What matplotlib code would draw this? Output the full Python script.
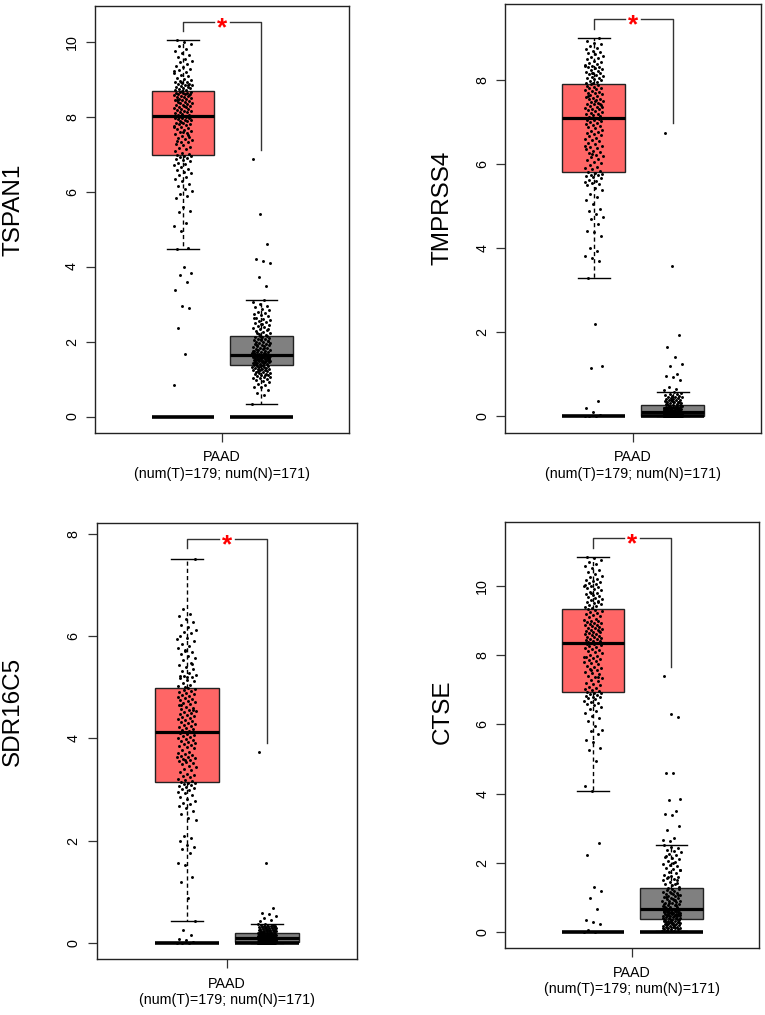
import numpy as np
import matplotlib
matplotlib.use('Agg')
import matplotlib.pyplot as plt

plt.rcParams['font.family'] = ['Liberation Sans', 'DejaVu Sans']

# ---------------- data ----------------
genes = ['TSPAN1', 'TMPRSS4', 'SDR16C5', 'CTSE']
cancer = 'PAAD'
n_tumor = 179
n_normal = 171
groups = ['T', 'N']

# box statistics: (lower whisker, Q1, median, Q3, upper whisker)
tspan1_box_t = (4.47, 6.98, 8.01, 8.67, 10.03)
tspan1_box_n = (0.34, 1.38, 1.65, 2.16, 3.11)
tmprss4_box_t = (3.29, 5.83, 7.10, 7.92, 9.01)
tmprss4_box_n = (0.00, 0.00, 0.10, 0.26, 0.59)
sdr16c5_box_t = (0.43, 3.15, 4.13, 4.99, 7.51)
sdr16c5_box_n = (0.00, 0.01, 0.09, 0.19, 0.37)
ctse_box_t = (4.07, 6.94, 8.34, 9.34, 10.85)
ctse_box_n = (0.02, 0.38, 0.67, 1.26, 2.51)

# significance bracket: (top, tumor leg end, normal leg end)
tspan1_bracket = (10.52, 10.28, 7.11)
tmprss4_bracket = (9.46, 9.22, 6.98)
sdr16c5_bracket = (7.90, 7.71, 3.91)
ctse_bracket = (11.39, 11.11, 7.67)

tspan1_yticks = [0, 2, 4, 6, 8, 10]
tmprss4_yticks = [0, 2, 4, 6, 8]
sdr16c5_yticks = [0, 2, 4, 6, 8]
ctse_yticks = [0, 2, 4, 6, 8, 10]

# individual sample values (log2(TPM+1))
tspan1_t = [0.85, 1.66, 2.36, 2.89, 2.96, 3.38, 3.59, 3.78, 3.84, 3.98,
            4.47, 4.50, 4.95, 5.08, 5.16, 5.45, 5.48, 5.58, 5.82, 5.88, 5.93, 6.02, 6.08, 6.15, 6.21,
            6.27, 6.33, 6.39, 6.44, 6.49, 6.52, 6.57, 6.61, 6.66, 6.70, 6.73, 6.76, 6.81, 6.84, 6.87,
            6.90, 6.92, 6.94, 6.96, 6.97,
            7.01, 7.04, 7.09, 7.13, 7.16, 7.19, 7.23, 7.26, 7.31, 7.33, 7.37, 7.41, 7.44, 7.46, 7.49,
            7.53, 7.56, 7.59, 7.61, 7.64, 7.66, 7.69, 7.71, 7.74, 7.77, 7.79, 7.81, 7.83, 7.84, 7.87,
            7.89, 7.90, 7.92, 7.93, 7.95, 7.96, 7.97, 7.98, 7.99, 8.00, 7.58, 7.35, 7.52, 7.86, 7.72,
            8.02, 8.04, 8.05, 8.07, 8.09, 8.11, 8.12, 8.14, 8.16, 8.18, 8.19, 8.21, 8.23, 8.25, 8.26,
            8.28, 8.30, 8.31, 8.33, 8.35, 8.37, 8.38, 8.40, 8.42, 8.43, 8.45, 8.47, 8.48, 8.50, 8.51,
            8.53, 8.54, 8.56, 8.57, 8.59, 8.60, 8.61, 8.62, 8.63, 8.64, 8.65, 8.66, 8.29, 8.44, 8.58,
            8.68, 8.70, 8.71, 8.73, 8.75, 8.76, 8.78, 8.80, 8.81, 8.83, 8.85, 8.86, 8.88, 8.90, 8.92,
            8.93, 8.95, 8.98, 9.01, 9.04, 9.08, 9.11, 9.15, 9.19, 9.23, 9.26, 9.31, 9.36, 9.41, 9.45,
            9.49, 9.53, 9.58, 9.64, 9.70, 9.75, 9.80, 9.87, 9.94, 10.00, 10.03, 8.84, 8.91, 9.22]
tspan1_n = [0.34, 0.58, 0.62, 0.72, 0.78, 0.80, 0.84, 0.88, 0.92, 0.95, 0.98, 1.00, 1.02, 1.04, 1.06,
            1.08, 1.10, 1.11, 1.13, 1.14, 1.16, 1.17, 1.19, 1.20, 1.21, 1.23, 1.24, 1.25, 1.26, 1.27,
            1.28, 1.29, 1.30, 1.31, 1.32, 1.33, 1.34, 1.35, 1.36, 1.37, 1.12, 1.22, 1.05,
            1.38, 1.39, 1.40, 1.41, 1.42, 1.43, 1.44, 1.45, 1.45, 1.46, 1.47, 1.48, 1.48, 1.49, 1.50,
            1.51, 1.51, 1.52, 1.53, 1.54, 1.54, 1.55, 1.56, 1.56, 1.57, 1.58, 1.58, 1.59, 1.60, 1.60,
            1.61, 1.61, 1.62, 1.62, 1.63, 1.63, 1.64, 1.64, 1.65, 1.46, 1.52, 1.57, 1.59,
            1.66, 1.67, 1.68, 1.69, 1.70, 1.71, 1.72, 1.73, 1.74, 1.75, 1.77, 1.78, 1.79, 1.81, 1.82,
            1.84, 1.85, 1.87, 1.88, 1.90, 1.91, 1.93, 1.94, 1.96, 1.97, 1.99, 2.00, 2.02, 2.03, 2.05,
            2.06, 2.08, 2.09, 2.11, 2.12, 2.14, 2.15, 1.76, 1.83, 1.92, 2.01, 2.07, 1.70,
            2.18, 2.21, 2.24, 2.26, 2.29, 2.31, 2.34, 2.37, 2.39, 2.42, 2.45, 2.48, 2.50, 2.53, 2.55,
            2.58, 2.61, 2.64, 2.67, 2.70, 2.73, 2.76, 2.80, 2.84, 2.88, 2.92, 2.96, 3.00, 3.05, 3.11,
            2.22, 2.33, 2.47, 2.62,
            3.49, 3.73, 4.09, 4.16, 4.20, 4.59, 5.40, 6.88]

tmprss4_t = [0.0, 0.0, 0.0, 0.04, 0.10, 0.21, 0.36, 1.15, 1.20, 2.19,
             3.29, 3.70, 3.78, 3.83, 3.93, 4.02, 4.30, 4.38, 4.42, 4.58, 4.70, 4.75, 4.82, 4.88, 4.93,
             5.05, 5.15, 5.22, 5.30, 5.38, 5.44, 5.50, 5.53, 5.56, 5.58, 5.61, 5.64, 5.67, 5.70, 5.72,
             5.74, 5.76, 5.78, 5.80, 5.82,
             5.85, 5.88, 5.92, 5.95, 5.99, 6.03, 6.06, 6.10, 6.14, 6.17, 6.20, 6.23, 6.27, 6.30, 6.33,
             6.36, 6.39, 6.42, 6.45, 6.48, 6.51, 6.55, 6.58, 6.61, 6.64, 6.67, 6.70, 6.72, 6.75, 6.78,
             6.80, 6.83, 6.86, 6.88, 6.91, 6.94, 6.96, 6.99, 7.01, 7.03, 7.05, 7.07, 7.09, 6.25, 6.44,
             7.11, 7.13, 7.15, 7.17, 7.19, 7.21, 7.23, 7.25, 7.27, 7.29, 7.31, 7.33, 7.35, 7.37, 7.39,
             7.41, 7.43, 7.45, 7.47, 7.49, 7.51, 7.53, 7.55, 7.57, 7.59, 7.61, 7.63, 7.65, 7.67, 7.69,
             7.71, 7.73, 7.75, 7.77, 7.79, 7.81, 7.83, 7.85, 7.87, 7.89, 7.91, 7.36, 7.52, 7.64, 7.44,
             7.93, 7.95, 7.97, 7.99, 8.01, 8.03, 8.05, 8.07, 8.09, 8.11, 8.13, 8.15, 8.17, 8.19, 8.21,
             8.23, 8.25, 8.27, 8.29, 8.31, 8.33, 8.35, 8.37, 8.39, 8.41, 8.44, 8.47, 8.50, 8.53, 8.56,
             8.59, 8.62, 8.65, 8.68, 8.71, 8.74, 8.78, 8.82, 8.86, 8.90, 8.95, 9.01, 8.18, 8.34]
tmprss4_n = [0.0, 0.0, 0.0, 0.0, 0.0, 0.0, 0.0, 0.0, 0.0, 0.0, 0.0, 0.0, 0.0, 0.0, 0.0, 0.0, 0.0, 0.0,
             0.0, 0.0, 0.01, 0.01, 0.01, 0.01, 0.01, 0.01, 0.01, 0.01, 0.01, 0.01, 0.02, 0.02, 0.02,
             0.02, 0.02, 0.02, 0.02, 0.02, 0.02, 0.02,
             0.03, 0.03, 0.03, 0.03, 0.03, 0.04, 0.04, 0.04, 0.04, 0.04, 0.05, 0.05, 0.05, 0.05, 0.05,
             0.05, 0.06, 0.06, 0.06, 0.06, 0.06, 0.06, 0.07, 0.07, 0.07, 0.07, 0.07, 0.07, 0.08, 0.08,
             0.08, 0.08, 0.08, 0.08, 0.09, 0.09, 0.09, 0.09, 0.09, 0.09,
             0.10, 0.10, 0.11, 0.11, 0.12, 0.12, 0.13, 0.13, 0.14, 0.14, 0.15, 0.15, 0.16, 0.16, 0.17,
             0.17, 0.18, 0.18, 0.19, 0.19, 0.20, 0.20, 0.21, 0.21, 0.22, 0.22, 0.23, 0.23, 0.24, 0.24,
             0.25, 0.10, 0.12, 0.14, 0.16, 0.18, 0.20, 0.22, 0.11, 0.13, 0.15, 0.17, 0.19, 0.21, 0.23,
             0.26, 0.27, 0.28, 0.29, 0.30, 0.31, 0.32, 0.33, 0.34, 0.35, 0.36, 0.37, 0.38, 0.39, 0.40,
             0.41, 0.42, 0.43, 0.44, 0.45, 0.46, 0.47, 0.48, 0.49, 0.50, 0.52, 0.54, 0.56, 0.59, 0.30,
             0.35, 0.40,
             0.63, 0.66, 0.70, 0.87, 0.93, 0.97, 1.01, 1.20, 1.25, 1.41, 1.66, 1.94, 3.59, 6.74]

sdr16c5_t = [0.0, 0.0, 0.0, 0.02, 0.05, 0.08, 0.16, 0.25,
             0.43, 0.88, 1.20, 1.28, 1.52, 1.56, 1.75, 1.83, 1.87, 1.92, 2.00, 2.05, 2.08, 2.40, 2.45,
             2.52, 2.58, 2.63, 2.67, 2.71, 2.74, 2.78, 2.82, 2.86, 2.90, 2.93, 2.95, 2.98, 3.00, 3.02,
             3.04, 3.06, 3.08, 3.10, 3.12, 3.13, 3.14,
             3.17, 3.19, 3.21, 3.24, 3.26, 3.28, 3.31, 3.34, 3.37, 3.40, 3.43, 3.46, 3.49, 3.52, 3.54,
             3.56, 3.58, 3.60, 3.62, 3.64, 3.66, 3.68, 3.70, 3.72, 3.74, 3.77, 3.80, 3.82, 3.84, 3.86,
             3.88, 3.90, 3.92, 3.94, 3.96, 3.98, 4.00, 4.02, 4.04, 4.06, 4.08, 4.10, 4.12, 3.57, 3.63,
             4.14, 4.16, 4.18, 4.20, 4.22, 4.24, 4.26, 4.28, 4.30, 4.32, 4.34, 4.36, 4.38, 4.40, 4.42,
             4.44, 4.46, 4.48, 4.50, 4.52, 4.54, 4.56, 4.58, 4.60, 4.62, 4.64, 4.66, 4.68, 4.70, 4.72,
             4.74, 4.76, 4.78, 4.80, 4.82, 4.84, 4.86, 4.88, 4.90, 4.92, 4.94, 4.96, 4.98, 4.65, 4.55,
             5.01, 5.03, 5.05, 5.08, 5.11, 5.14, 5.17, 5.20, 5.22, 5.24, 5.28, 5.32, 5.36, 5.40, 5.44,
             5.48, 5.52, 5.56, 5.60, 5.64, 5.68, 5.72, 5.76, 5.80, 5.85, 5.90, 5.95, 6.00, 6.05, 6.08,
             6.12, 6.17, 6.22, 6.28, 6.34, 6.38, 6.42, 6.52, 7.51, 5.19, 5.21, 5.46, 5.70, 5.93]
sdr16c5_n = [0.0, 0.0, 0.0, 0.0, 0.0, 0.0, 0.0, 0.0, 0.0, 0.0, 0.0, 0.0, 0.0, 0.0, 0.0, 0.0, 0.0, 0.0,
             0.0, 0.0, 0.01, 0.01, 0.01, 0.01, 0.01, 0.01, 0.01, 0.01, 0.01, 0.01, 0.02, 0.02, 0.02,
             0.02, 0.02, 0.02, 0.02, 0.02, 0.02, 0.02,
             0.03, 0.03, 0.03, 0.03, 0.03, 0.04, 0.04, 0.04, 0.04, 0.04, 0.04, 0.05, 0.05, 0.05, 0.05,
             0.05, 0.05, 0.06, 0.06, 0.06, 0.06, 0.06, 0.06, 0.07, 0.07, 0.07, 0.07, 0.07, 0.07, 0.08,
             0.08, 0.08, 0.08, 0.08, 0.08, 0.09, 0.09, 0.09, 0.09, 0.09, 0.09,
             0.10, 0.10, 0.10, 0.10, 0.10, 0.11, 0.11, 0.11, 0.11, 0.11, 0.12, 0.12, 0.12, 0.12, 0.12,
             0.13, 0.13, 0.13, 0.13, 0.13, 0.14, 0.14, 0.14, 0.14, 0.14, 0.15, 0.15, 0.15, 0.15, 0.15,
             0.16, 0.16, 0.16, 0.16, 0.17, 0.17, 0.17, 0.17, 0.18, 0.18, 0.18,
             0.19, 0.19, 0.20, 0.20, 0.21, 0.21, 0.22, 0.22, 0.23, 0.23, 0.24, 0.24, 0.25, 0.25, 0.26,
             0.26, 0.27, 0.27, 0.28, 0.28, 0.29, 0.29, 0.30, 0.30, 0.31, 0.31, 0.32, 0.32, 0.33, 0.33,
             0.34, 0.34, 0.35, 0.35, 0.36, 0.37, 0.20, 0.22, 0.24, 0.26,
             0.42, 0.45, 0.48, 0.53, 0.56, 0.59, 0.68, 1.56, 3.74]

ctse_t = [0.0, 0.0, 0.05, 0.22, 0.28, 0.35, 0.66, 0.99, 1.18, 1.31, 2.23, 2.56,
          4.07, 4.22, 4.95, 5.25, 5.32, 5.50, 5.55, 5.72, 5.80, 5.85, 5.95, 6.10, 6.18, 6.25, 6.32,
          6.38, 6.45, 6.50, 6.55, 6.58, 6.62, 6.65, 6.68, 6.72, 6.75, 6.78, 6.80, 6.83, 6.85, 6.88,
          6.90, 6.92, 6.93,
          6.96, 6.99, 7.02, 7.05, 7.09, 7.13, 7.17, 7.21, 7.25, 7.29, 7.33, 7.37, 7.41, 7.45, 7.49,
          7.52, 7.56, 7.60, 7.63, 7.67, 7.70, 7.74, 7.77, 7.80, 7.84, 7.87, 7.90, 7.93, 7.96, 7.99,
          8.02, 8.05, 8.08, 8.11, 8.14, 8.17, 8.20, 8.23, 8.26, 8.29, 8.31, 8.33, 7.38, 7.58, 7.95,
          8.36, 8.38, 8.40, 8.42, 8.44, 8.46, 8.48, 8.50, 8.52, 8.54, 8.56, 8.58, 8.60, 8.62, 8.64,
          8.66, 8.68, 8.70, 8.72, 8.74, 8.76, 8.78, 8.80, 8.82, 8.84, 8.86, 8.88, 8.90, 8.92, 8.94,
          8.96, 8.98, 9.00, 9.03, 9.06, 9.09, 9.12, 9.15, 9.18, 9.21, 9.24, 9.27, 9.30, 9.33, 8.71,
          9.36, 9.39, 9.42, 9.45, 9.48, 9.51, 9.54, 9.57, 9.60, 9.63, 9.66, 9.69, 9.72, 9.75, 9.78,
          9.81, 9.84, 9.87, 9.90, 9.93, 9.96, 9.99, 10.02, 10.05, 10.08, 10.11, 10.14, 10.17, 10.21,
          10.25, 10.30, 10.35, 10.40, 10.46, 10.52, 10.58, 10.64, 10.70, 10.75, 10.80, 10.85, 9.55,
          9.80, 10.00]
ctse_n = [0.02, 0.04, 0.06, 0.08, 0.09, 0.10, 0.11, 0.12, 0.13, 0.14, 0.15, 0.16, 0.17, 0.18, 0.19,
          0.20, 0.21, 0.22, 0.23, 0.24, 0.25, 0.26, 0.27, 0.28, 0.29, 0.30, 0.31, 0.32, 0.33, 0.34,
          0.35, 0.36, 0.37, 0.38, 0.12, 0.18, 0.24, 0.30, 0.33,
          0.39, 0.40, 0.41, 0.42, 0.43, 0.44, 0.45, 0.46, 0.47, 0.48, 0.49, 0.50, 0.51, 0.52, 0.53,
          0.54, 0.55, 0.56, 0.57, 0.58, 0.59, 0.60, 0.61, 0.62, 0.63, 0.64, 0.65, 0.66, 0.67, 0.42,
          0.45, 0.48, 0.51, 0.54, 0.57, 0.60, 0.63, 0.50, 0.56,
          0.69, 0.71, 0.73, 0.75, 0.77, 0.79, 0.81, 0.83, 0.85, 0.87, 0.89, 0.91, 0.93, 0.95, 0.97,
          0.99, 1.01, 1.03, 1.05, 1.07, 1.09, 1.11, 1.13, 1.15, 1.17, 1.19, 1.21, 1.23, 1.25, 0.72,
          0.78, 0.84, 0.90, 0.96, 1.02, 1.08, 1.14, 0.80, 0.94,
          1.28, 1.31, 1.35, 1.38, 1.42, 1.46, 1.49, 1.52, 1.55, 1.58, 1.62, 1.66, 1.70, 1.74, 1.78,
          1.82, 1.86, 1.90, 1.94, 1.98, 2.02, 2.06, 2.10, 2.14, 2.18, 2.22, 2.26, 2.30, 2.34, 2.38,
          2.42, 2.46, 2.51, 1.40, 1.60, 1.80, 2.00, 2.20, 1.50,
          2.62, 2.66, 2.71, 2.95, 3.06, 3.39, 3.42, 3.50, 3.81, 3.84, 4.60, 4.61, 6.22, 6.29, 7.41]

zero_level = 0.0

# ---------------- styling / layout ----------------
TUMOR_COLOR = '#FF6666'
NORMAL_COLOR = '#808080'
EDGE = '#222222'

panels = [
    dict(gene=genes[0], t=tspan1_t, n=tspan1_n, bt=tspan1_box_t, bn=tspan1_box_n,
         br=tspan1_bracket, yt=tspan1_yticks, ylim=(-0.44, 10.95),
         rect=[0.1242, 0.5734, 0.3320, 0.4207], lab=(13.3, 209.6)),
    dict(gene=genes[1], t=tmprss4_t, n=tmprss4_n, bt=tmprss4_box_t, bn=tmprss4_box_n,
         br=tmprss4_bracket, yt=tmprss4_yticks, ylim=(-0.39, 9.83),
         rect=[0.6605, 0.5737, 0.3343, 0.4227], lab=(442.5, 207.5)),
    dict(gene=genes[2], t=sdr16c5_t, n=sdr16c5_n, bt=sdr16c5_box_t, bn=sdr16c5_box_n,
         br=sdr16c5_bracket, yt=sdr16c5_yticks, ylim=(-0.32, 8.20),
         rect=[0.1264, 0.0549, 0.3399, 0.4295], lab=(13.3, 711.7)),
    dict(gene=genes[3], t=ctse_t, n=ctse_n, bt=ctse_box_t, bn=ctse_box_n,
         br=ctse_bracket, yt=ctse_yticks, ylim=(-0.47, 11.84),
         rect=[0.6605, 0.0657, 0.3317, 0.4197], lab=(442.5, 711.7)),
]

W, H = 765, 1015
fig = plt.figure(figsize=(W / 100, H / 100), dpi=100)

pos_t, pos_n = 0.346, 0.655
box_w = 0.247
jit = 0.036


def stats(b):
    lo, q1, med, q3, hi = b
    return dict(whislo=lo, q1=q1, med=med, q3=q3, whishi=hi, fliers=[])


xlabel_text = f'{cancer}\n(num(T)={n_tumor}; num(N)={n_normal})'

for p in panels:
    ax = fig.add_axes(p['rect'])
    ax.set_xlim(0, 1)
    ax.set_ylim(*p['ylim'])

    # boxes
    for b, pos, col in [(p['bt'], pos_t, TUMOR_COLOR), (p['bn'], pos_n, NORMAL_COLOR)]:
        ax.bxp([stats(b)], positions=[pos], widths=box_w, showfliers=False,
               patch_artist=True, manage_ticks=False, capwidths=[box_w / 2],
               boxprops=dict(facecolor=col, edgecolor=EDGE, linewidth=1.0),
               medianprops=dict(color='black', linewidth=2.3, solid_capstyle='butt'),
               whiskerprops=dict(color='black', linewidth=1.0, linestyle=(0, (3.0, 2.2))),
               capprops=dict(color='black', linewidth=1.0), zorder=2)
        # thick line at zero level
        ax.hlines(zero_level, pos - box_w / 2, pos + box_w / 2, color='black',
                  linewidth=2.6, zorder=3)

    # jittered points
    for vals, pos in [(p['t'], pos_t), (p['n'], pos_n)]:
        v = np.asarray(vals, dtype=float)
        k = np.arange(len(v))
        off = (((k * 0.6180339887) % 1.0) - 0.5) * 2 * jit
        ax.scatter(pos + off, v, s=4.5, c='black', linewidths=0, zorder=4)

    # significance bracket
    top, lt, ln = p['br']
    ax.plot([pos_t, pos_t, pos_t + box_w / 2], [lt, top, top], color='#333333', lw=1.0, zorder=3)
    ax.plot([pos_n - box_w / 2, pos_n, pos_n], [top, top, ln], color='#333333', lw=1.0, zorder=3)
    ax.annotate('*', xy=(0.5, top), xytext=(0, -9.6), textcoords='offset points',
                ha='center', va='baseline', color='red', fontsize=19, fontweight='bold')

    # axes
    ax.set_yticks(p['yt'])
    ax.set_yticklabels([str(t) for t in p['yt']], rotation=90, va='center')
    ax.set_xticks([0.5])
    ax.set_xticklabels([xlabel_text], linespacing=1.25)
    ax.tick_params(axis='both', direction='out', length=6.5, width=0.9, color='#333333',
                   labelsize=10.3, labelcolor='black')
    ax.tick_params(axis='y', pad=5)
    ax.tick_params(axis='x', pad=6)
    for s in ax.spines.values():
        s.set_color('#222222')
        s.set_linewidth(1.0)

    fig.text(p['lab'][0] / W, 1 - p['lab'][1] / H, p['gene'], rotation=90,
             ha='center', va='center', fontsize=17.5)

fig.savefig('out.png', dpi=100)
